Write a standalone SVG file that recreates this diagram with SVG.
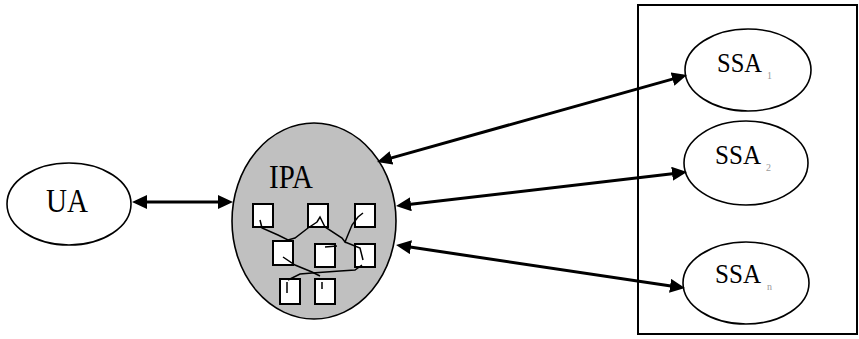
<svg xmlns="http://www.w3.org/2000/svg" width="859" height="339" viewBox="0 0 859 339">
<style>
.node{fill:#fff;stroke:#000;stroke-width:1.6}
.ipa{fill:#c0c0c0;stroke:#000;stroke-width:1.6}
.lbl{font-family:"Liberation Serif","Times New Roman",serif;fill:#000}
.sub{font-family:"Liberation Serif","Times New Roman",serif;fill:#999;font-size:10px}
.conn{stroke:#000;stroke-width:3;fill:none;marker-start:url(#ah);marker-end:url(#ah)}
.sq{fill:#fff;stroke:#000;stroke-width:2}
.wire{fill:none;stroke:#000;stroke-width:1.5}
</style>
<defs>
<marker id="ah" markerUnits="userSpaceOnUse" markerWidth="17" markerHeight="15" refX="11" refY="7" orient="auto-start-reverse">
<path d="M0,0 L15,7 L0,14 z" fill="#000"/>
</marker>
</defs>
<rect width="859" height="339" fill="#fff"/>
<g id="group-box">
<rect x="638" y="5" width="219" height="329" fill="none" stroke="#000" stroke-width="2"/>
</g>
<g id="node-ua">
<ellipse class="node" cx="69" cy="204" rx="62" ry="41"/>
<text class="lbl" x="46" y="212" font-size="34" textLength="42" lengthAdjust="spacingAndGlyphs">UA</text>
</g>
<g id="node-ipa">
<ellipse class="ipa" cx="314" cy="221" rx="82" ry="98"/>
<text class="lbl" x="269" y="188" font-size="34" textLength="44" lengthAdjust="spacingAndGlyphs">IPA</text>
<rect class="sq" x="253" y="204" width="20" height="23"/>
<rect class="sq" x="308" y="204" width="20" height="23"/>
<rect class="sq" x="355" y="204" width="20" height="23"/>
<rect class="sq" x="273" y="241" width="20" height="24"/>
<rect class="sq" x="315" y="244" width="20" height="23"/>
<rect class="sq" x="355" y="244" width="20" height="23"/>
<rect class="sq" x="280" y="279" width="20" height="25"/>
<rect class="sq" x="315" y="279" width="20" height="25"/>
<path class="wire" d="M260,220 L262,228 L278,235 L288,240 L295,238 L308,228 L317,222 L320,217 L325,227 L342,238 L345,242 L352,225 L358,217 L363,213"/>
<path class="wire" d="M345,242 L360,248 L363,260"/>
<path class="wire" d="M325,247 L337,246"/>
<path class="wire" d="M283,257 L295,265 L312,272 L320,276"/>
<path class="wire" d="M288,280 L300,274 L312,273 L340,271 L355,270 L362,265"/>
<path class="wire" d="M287,282 L287,293"/>
<path class="wire" d="M322,282 L322,289"/>
</g>
<g id="node-ssa1">
<ellipse class="node" cx="748" cy="70" rx="63" ry="41"/>
<text class="lbl" x="717" y="72" font-size="28" textLength="45" lengthAdjust="spacingAndGlyphs">SSA</text>
<text class="sub" x="767" y="79">1</text>
</g>
<g id="node-ssa2">
<ellipse class="node" cx="746" cy="163" rx="62" ry="42"/>
<text class="lbl" x="715" y="164" font-size="28" textLength="46" lengthAdjust="spacingAndGlyphs">SSA</text>
<text class="sub" x="766" y="171">2</text>
</g>
<g id="node-ssan">
<ellipse class="node" cx="746" cy="283" rx="63" ry="41"/>
<text class="lbl" x="715" y="283" font-size="28" textLength="46" lengthAdjust="spacingAndGlyphs">SSA</text>
<text class="sub" x="767" y="290">n</text>
</g>
<g id="connectors">
<path class="conn" d="M136,202 L229,202"/>
<path class="conn" d="M380.9,160.9 L683.1,76.1"/>
<path class="conn" d="M400,205.5 L683,172.5"/>
<path class="conn" d="M400,245.6 L681,287.4"/>
</g>
</svg>
